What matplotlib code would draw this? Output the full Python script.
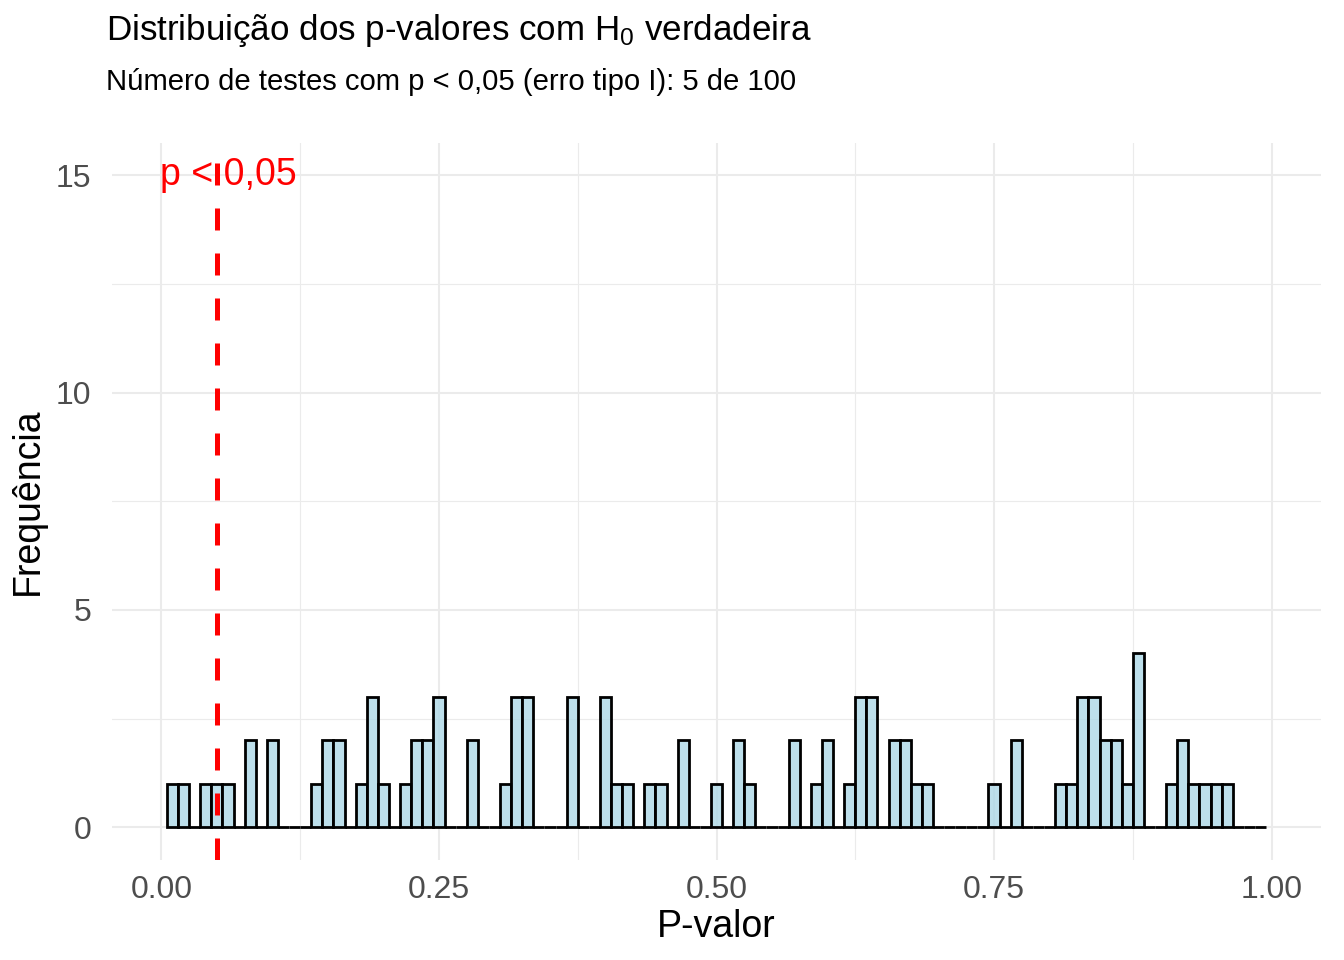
import numpy as np
import matplotlib
matplotlib.use('Agg')
import matplotlib.pyplot as plt
from matplotlib.ticker import MultipleLocator

plt.rcParams['font.family'] = ['Liberation Sans', 'DejaVu Sans']
plt.rcParams['mathtext.default'] = 'regular'

# contagens por classe (largura 0,01, centros 0,01 ... 0,99)
bin_width = 0.01
bin_centers = np.round(np.arange(1, 100) * bin_width, 2)
counts = [1, 1, 0, 1, 1, 1, 0, 2, 0, 2,
          0, 0, 0, 1, 2, 2, 0, 1, 3, 1,
          0, 1, 2, 2, 3, 0, 0, 2, 0, 0,
          1, 3, 3, 0, 0, 0, 3, 0, 0, 3,
          1, 1, 0, 1, 1, 0, 2, 0, 0, 1,
          0, 2, 1, 0, 0, 0, 2, 0, 1, 2,
          0, 1, 3, 3, 0, 2, 2, 1, 1, 0,
          0, 0, 0, 0, 1, 0, 2, 0, 0, 0,
          1, 1, 3, 3, 2, 2, 1, 4, 0, 0,
          1, 2, 1, 1, 1, 1, 0, 0, 0]
alpha_level = 0.05
n_sig = 5
n_total = 100

x_ticks = [0.0, 0.25, 0.5, 0.75, 1.0]
y_ticks = [0, 5, 10, 15]

fig = plt.figure(figsize=(13.44, 9.6), dpi=100)
ax = fig.add_axes([112 / 1344, 1 - 860 / 960, 1209 / 1344, 717.5 / 960])

ax.bar(bin_centers, counts, width=bin_width,
       facecolor=(173 / 255, 216 / 255, 230 / 255, 0.8),
       edgecolor='black', linewidth=2.0, zorder=2)
ax.axvline(alpha_level, color='red', linewidth=3.6,
           linestyle=(0, (4.4, 4.6)), zorder=3)
ax.text(0.06, 15, 'p < 0,05', color='red', fontsize=27,
        ha='center', va='center', zorder=4)

# limites com expansao de 5% (como ggplot)
x_lo = bin_centers[0] - bin_width / 2
x_hi = bin_centers[-1] + bin_width / 2
pad = 0.05 * (x_hi - x_lo)
ax.set_xlim(x_lo - pad, x_hi + pad)
ax.set_ylim(-0.75, 15.75)

ax.set_xticks(x_ticks)
ax.set_xticklabels(['%.2f' % v for v in x_ticks])
ax.set_yticks(y_ticks)
ax.xaxis.set_minor_locator(MultipleLocator(0.125))
ax.yaxis.set_minor_locator(MultipleLocator(2.5))

ax.grid(which='major', color='#EBEBEB', linewidth=1.5, zorder=0)
ax.grid(which='minor', color='#EBEBEB', linewidth=0.8, zorder=0)
ax.set_axisbelow(True)
for s in ax.spines.values():
    s.set_visible(False)
ax.tick_params(which='both', length=0)
ax.tick_params(axis='both', labelsize=23, labelcolor='#4D4D4D')
ax.tick_params(axis='x', pad=11)
ax.tick_params(axis='y', pad=15)

fig.text(716.5 / 1344, 1 - 937 / 960, 'P-valor', fontsize=27,
         ha='center', va='baseline')
fig.text(27.5 / 1344, 1 - 501 / 960, 'Frequência', fontsize=27,
         rotation=90, ha='center', va='center')
fig.text(106 / 1344, 1 - 40 / 960,
         'Distribuição dos p-valores com H$_0$ verdadeira',
         fontsize=25.2, ha='left', va='baseline')
fig.text(106 / 1344, 1 - 90 / 960,
         'Número de testes com p < 0,05 (erro tipo I): %d de %d' % (n_sig, n_total),
         fontsize=21.1, ha='left', va='baseline')

fig.savefig('out.png', dpi=100)
